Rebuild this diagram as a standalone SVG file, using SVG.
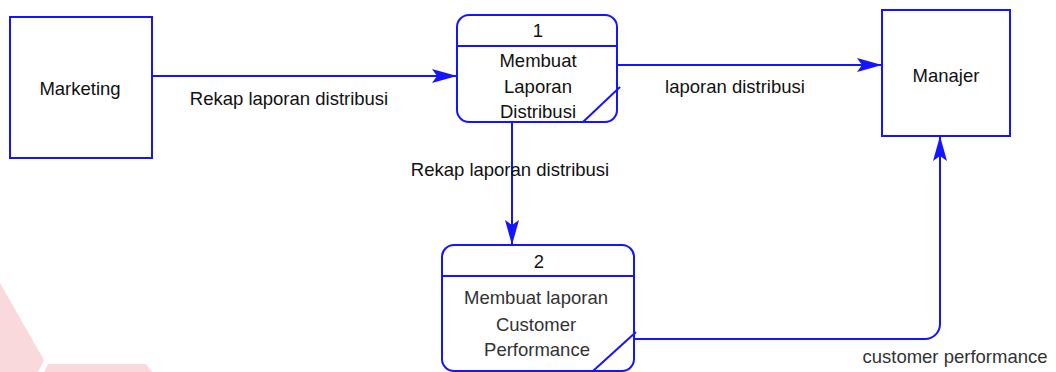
<svg xmlns="http://www.w3.org/2000/svg" width="1056" height="372" viewBox="0 0 1056 372">
  <style>
    .box { fill: #ffffff; stroke: #1414ff; stroke-width: 2; }
    .ln { fill: none; stroke: #1414ff; stroke-width: 2; }
    .t { font-family: "Liberation Sans", Arial, sans-serif; font-size: 18.5px; fill: #111111; text-anchor: middle; }
    .g { fill: #333333; }
    .wm { fill: #f7c9cc; opacity: 0.7; }
  </style>
  <defs>
    <marker id="arr" markerUnits="userSpaceOnUse" viewBox="0 0 25 14" refX="25" refY="7" markerWidth="25" markerHeight="14" orient="auto">
      <path d="M0,0 L25,7 L0,14 L5,7 Z" fill="#1414ff"/>
    </marker>
  </defs>
  <rect width="1056" height="372" fill="#ffffff"/>
  <g id="watermark">
    <polygon class="wm" points="0,283 44,360 38,372 0,372"/>
    <polygon class="wm" points="48,364 146,364 152,372 44,372"/>
  </g>
  <g id="connectors">
    <path class="ln" d="M152,76 H457" marker-end="url(#arr)"/>
    <path class="ln" d="M617,65 H882" marker-end="url(#arr)"/>
    <path class="ln" d="M512,122 V245" marker-end="url(#arr)"/>
    <path class="ln" d="M634,339 H925 A15,15 0 0 0 940,324 V136" marker-end="url(#arr)"/>
    <text class="t" x="289" y="105">Rekap laporan distribusi</text>
    <text class="t" x="735" y="93">laporan distribusi</text>
    <text class="t" x="510" y="176">Rekap laporan distribusi</text>
    <text class="t g" x="955" y="363">customer performance</text>
  </g>
  <g id="marketing">
    <rect class="box" x="10" y="17" width="142" height="141"/>
    <text class="t" x="80" y="95">Marketing</text>
  </g>
  <g id="manajer">
    <rect class="box" x="882" y="10" width="128" height="126"/>
    <text class="t" x="946" y="82">Manajer</text>
  </g>
  <g id="process1">
    <rect class="box" x="457" y="15" width="160" height="107" rx="12" ry="12"/>
    <line class="ln" x1="457" y1="46" x2="617" y2="46"/>
    <line class="ln" x1="583" y1="122" x2="620" y2="87"/>
    <text class="t" x="538" y="37">1</text>
    <text class="t" x="538" y="67">Membuat</text>
    <text class="t" x="538" y="93">Laporan</text>
    <text class="t" x="538" y="118">Distribusi</text>
  </g>
  <g id="process2">
    <rect class="box" x="442" y="245" width="192" height="126" rx="12" ry="12"/>
    <line class="ln" x1="442" y1="276" x2="634" y2="276"/>
    <line class="ln" x1="593" y1="371" x2="636" y2="332"/>
    <text class="t" x="539" y="268">2</text>
    <text class="t g" x="536" y="304">Membuat laporan</text>
    <text class="t g" x="536" y="331">Customer</text>
    <text class="t g" x="537" y="356">Performance</text>
  </g>
</svg>
